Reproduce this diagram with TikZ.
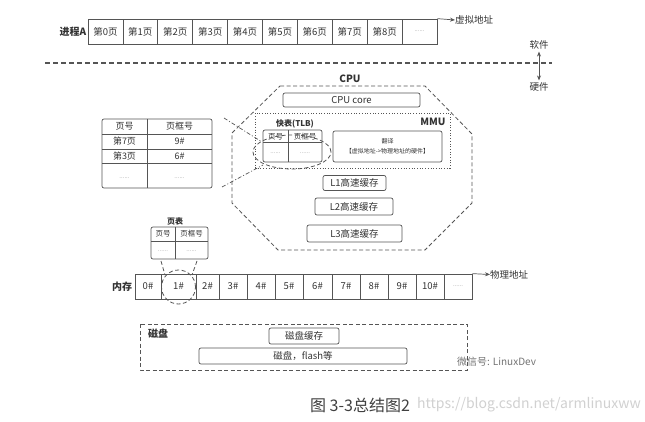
\documentclass[tikz,border=0pt]{standalone}
\usepackage{fontspec}
\setmainfont{Noto Sans CJK SC}
\usetikzlibrary{arrows.meta}
\definecolor{ln}{HTML}{555555}
\definecolor{tx}{HTML}{333333}
\definecolor{dotc}{HTML}{999999}
\begin{document}
\begin{tikzpicture}[x=1pt,y=-1pt, text=tx,
  font=\fontsize{9.5}{10}\selectfont,
  box/.style={draw=ln, line width=0.7pt, inner sep=0pt},
  rbox/.style={box, rounded corners=2pt},
  lbl/.style={font=\bfseries\fontsize{10}{12}\selectfont, inner sep=0pt},
  plain/.style={inner sep=0pt},
  small/.style={inner sep=0pt, font=\fontsize{7.5}{8}\selectfont},
  tbl/.style={inner sep=0pt, font=\fontsize{9}{10}\selectfont},
  dots/.style={inner sep=0pt, font=\fontsize{6}{6}\selectfont, text=dotc},
  arr/.style={draw=ln, line width=0.7pt, -{Stealth[length=5pt,width=4pt]}},
  dsh/.style={draw=ln, line width=0.8pt, dash pattern=on 4pt off 2.5pt}
]
\useasboundingbox (0,0) rectangle (645,422);
\fill[white] (0,0) rectangle (645,422);

% ---------- process A (virtual pages) ----------
\node[lbl] (pa) at (73,32) {进程A};
\foreach \i in {0,...,8} {
  \node[box, minimum width=34.9pt, minimum height=25pt] (v\i) at (88+34.9*\i+17.45,31.5) {第\i{}页};
}
\node[box, minimum width=34.9pt, minimum height=25pt] (v9) at (88+34.9*9+17.45,31.5) {};
\node[dots] (v9d) at (v9) {......};
\node[plain, anchor=west] (vaddr) at (455,20) {虚拟地址};
\draw[arr] (v9.north east) -- (vaddr.west);

% ---------- software / hardware split ----------
\coordinate (sl) at (45,63);
\coordinate (sr) at (552,63);
\draw[draw=ln, line width=1.1pt, dash pattern=on 5pt off 3pt] (sl) -- (sr);
\node[plain] (sw) at (539,45) {软件};
\node[plain] (hw) at (539,87) {硬件};
\draw[draw=ln, line width=0.8pt, {Stealth[length=5pt,width=4pt]}-{Stealth[length=5pt,width=4pt]}] ([yshift=-2pt]sw.south) -- ([yshift=2pt]hw.north);

% ---------- CPU ----------
\draw[dsh] (280,86) -- (425,86) -- (472,134) -- (472,203) -- (425,250) -- (278,250) -- (232,203) -- (232,133) -- cycle;
\node[lbl] (cpu) at (350,79) {CPU};
\node[rbox, minimum width=137pt, minimum height=14pt] (core) at (351.5,100) {CPU core};

% MMU
\node[draw=ln, line width=0.7pt, dotted, minimum width=195pt, minimum height=55pt, inner sep=0pt] (mmu) at (352.5,140.5) {};
\node[lbl] (mmul) at (433,122) {MMU};
\node[lbl, font=\bfseries\fontsize{8}{9}\selectfont] (tlbl) at (295,124) {快表(TLB)};

% TLB table
\draw[draw=ln, line width=0.7pt, rounded corners=2pt] (263,130) rectangle (322,162);
\coordinate (t1) at (263,142); \coordinate (t2) at (322,142);
\draw[draw=ln, line width=0.7pt] (t1) -- (t2);
\coordinate (t3) at (288,130); \coordinate (t4) at (288,162);
\draw[draw=ln, line width=0.7pt] (t3) -- (t4);
\node[small] (th1) at (275.5,136.5) {页号};
\node[small] (th2) at (305,136.5) {页框号};
\node[dots] (td1) at (275.5,153) {......};
\node[dots] (td2) at (305,153) {......};
\draw[dsh] (292,152) ellipse [x radius=39pt, y radius=17pt];
\coordinate (tlbe) at (292,152);

% translate box
\node[rbox, minimum width=109pt, minimum height=31pt] (trans) at (387.5,146.5) {};
\node[plain, font=\fontsize{6}{7}\selectfont] (tr1) at (387.5,141.5) {翻译};
\node[plain, font=\fontsize{6}{7}\selectfont] (tr2) at (387.5,151.5) {【虚拟地址->物理地址的硬件】};

% caches
\node[rbox, minimum width=63pt, minimum height=15pt] (l1) at (354.5,183) {L1高速缓存};
\node[rbox, minimum width=78pt, minimum height=17pt] (l2) at (354,206.5) {L2高速缓存};
\node[rbox, minimum width=95pt, minimum height=17pt] (l3) at (354.5,233.5) {L3高速缓存};

% ---------- left page table ----------
\draw[draw=ln, line width=0.7pt, rounded corners=2pt] (102,119) rectangle (212,188);
\foreach \yy in {134,149,163} {\draw[draw=ln, line width=0.7pt] (102,\yy) -- (212,\yy);}
\draw[draw=ln, line width=0.7pt] (147,119) -- (147,188);
\node[tbl] (lh1) at (124.5,126.5) {页号};
\node[tbl] (lh2) at (179.5,126.5) {页框号};
\node[tbl] (lr1) at (124.5,141.5) {第7页};
\node[tbl] (lr2) at (179.5,141.5) {9\#};
\node[tbl] (lr3) at (124.5,156) {第3页};
\node[tbl] (lr4) at (179.5,156) {6\#};
\node[dots] (lr5) at (124.5,178) {......};
\node[dots] (lr6) at (179.5,178) {......};
\coordinate (ltu) at (224,118);
\coordinate (ltl) at (222,187);
\coordinate (eu) at (262,142);
\coordinate (el) at (263,165);
\draw[draw=ln, line width=0.7pt, dash pattern=on 4pt off 2pt on 1pt off 2pt] (ltu) -- (eu);
\draw[draw=ln, line width=0.7pt, dash pattern=on 4pt off 2pt on 1pt off 2pt] (ltl) -- (el);

% ---------- small page table ----------
\node[lbl, font=\bfseries\fontsize{8}{9}\selectfont] (ptl) at (175,221) {页表};
\draw[draw=ln, line width=0.7pt, rounded corners=2pt] (151,227) rectangle (208,259);
\draw[draw=ln, line width=0.7pt] (151,241) -- (208,241);
\draw[draw=ln, line width=0.7pt] (175,227) -- (175,259);
\node[small] (ph1) at (163,234) {页号};
\node[small] (ph2) at (191.5,234) {页框号};
\node[dots] (pd1) at (163,251) {......};
\node[dots] (pd2) at (191.5,251) {......};

% ---------- memory ----------
\node[lbl] (mem) at (122,287) {内存};
\def\memrow{0/148/26/0\#,1/178.5/35/1\#,2/207.5/23/2\#,3/233/28/3\#,4/261/28/4\#,5/289/28/5\#,6/317.5/29/6\#,7/346/28/7\#,8/374/28/8\#,9/402/28/9\#,10/430/28/10\#}
\foreach \k/\xc/\w/\t in \memrow {
  \node[box, minimum width=\w pt, minimum height=25pt, font=\fontsize{9.5}{10}\selectfont] (m\k) at (\xc,286.5) {\t};
}
\node[box, minimum width=28pt, minimum height=25pt] (m11) at (458,286.5) {};
\node[dots] (m11d) at (m11) {......};
\node[plain, anchor=west] (paddr) at (490,274.5) {物理地址};
\draw[arr] (m11.north east) -- (paddr.west);

\draw[dsh] (178.5,287) circle [radius=17pt];
\coordinate (pc1) at (161,261); \coordinate (pc2) at (165,275);
\coordinate (pc3) at (197,261); \coordinate (pc4) at (192,275);
\draw[dsh] (pc1) -- (pc2);
\draw[dsh] (pc3) -- (pc4);

% ---------- disk ----------
\draw[dsh] (140,324) rectangle (467,370);
\node[lbl] (disk) at (158,334) {磁盘};
\node[rbox, minimum width=70pt, minimum height=16pt] (dc) at (304,336) {磁盘缓存};
\node[rbox, minimum width=208pt, minimum height=16pt] (df) at (303,356) {磁盘，flash等};

% ---------- caption and watermarks ----------
\node[plain, font=\fontsize{14}{15}\selectfont, text=black!18, anchor=east] (wm1) at (641,405) {https://blog.csdn.net/armlinuxww};
\node[plain, font=\fontsize{16}{17}\selectfont, text=black!75, fill=white, inner xsep=1pt] (cap) at (360,405) {图 3-3总结图2};
\node[plain, font=\fontsize{10}{11}\selectfont, text=black!55, anchor=west] (wm2) at (457,362) {微信号: LinuxDev};
\end{tikzpicture}
\end{document}
